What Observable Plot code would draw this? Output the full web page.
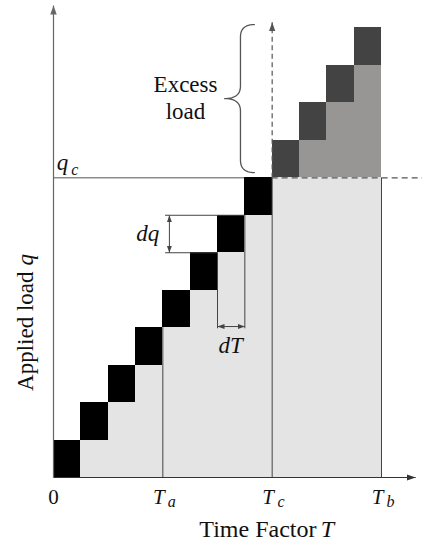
<!DOCTYPE html>
<html><head><meta charset="utf-8">
<script src="https://cdn.jsdelivr.net/npm/d3@7"></script>
<script src="https://cdn.jsdelivr.net/npm/@observablehq/plot@0.6"></script>
<style>html,body{margin:0;padding:0;background:#fff}#chart svg{display:block}</style>
</head><body><div id="chart"></div>
<script>
// ---- values (in units of dT and dq) ----
const stepStart = [0, 1, 2, 3, 4, 5, 6, 7, 8, 9, 10, 11];   // T at which each load increment starts
const stepLoad  = [1, 2, 3, 4, 5, 6, 7, 8, 9, 10, 11, 12];  // load q after each increment
const dT = 1, dq = 1;
const qc = 8;                          // critical load q_c
const Ta = 4, Tc = 8, Tb = 12;
const tickT    = [Ta, Tc, Tb];
const tickMain = ["T", "T", "T"];
const tickSub  = ["a", "c", "b"];
const originLabel = "0";
const xLabel = "Time Factor", xSym = "T";
const yLabel = "Applied load", ySym = "q";
const excessLabel = "Excess\nload";
const dqStep = 6, dTStep = 6;          // increments used to annotate dq and dT

const incs = stepStart.map((t, i) => ({t0: t, t1: t + dT, q0: stepLoad[i] - dq, q1: stepLoad[i]}));

const serif = '"Liberation Serif", "Times New Roman", serif';
const lineC = "#444";
const txt = {fontFamily: serif, fill: "#111"};

function head(orient, size) {
  return (color) => {
    const m = d3.create("svg:marker")
      .attr("viewBox", "-5 -5 10 10")
      .attr("markerWidth", size).attr("markerHeight", size)
      .attr("markerUnits", "userSpaceOnUse")
      .attr("refX", 5).attr("refY", 0)
      .attr("orient", orient);
    m.append("path").attr("d", "M-5,-3.6L5,0L-5,3.6Z").attr("fill", color).attr("stroke", "none");
    return m.node();
  };
}

// brace geometry (data units)
function quad(p0, c, p1, n = 12) {
  const pts = [];
  for (let k = 0; k <= n; k++) {
    const s = k / n, a = (1 - s) * (1 - s), b = 2 * (1 - s) * s, d = s * s;
    pts.push([a * p0[0] + b * c[0] + d * p1[0], a * p0[1] + b * c[1] + d * p1[1]]);
  }
  return pts;
}
const bx = {end: 7.35, spine: 6.84, tip: 6.26}, bq = {top: 12.09, bot: qc + 0.14}, r = 0.33;
const bmid = (bq.top + bq.bot) / 2;
const brace = [
  ...quad([bx.end, bq.top], [bx.spine, bq.top], [bx.spine, bq.top - r]),
  ...quad([bx.spine, bmid + r], [bx.spine, bmid], [bx.tip, bmid]),
  ...quad([bx.tip, bmid], [bx.spine, bmid], [bx.spine, bmid - r]),
  ...quad([bx.spine, bq.bot + r], [bx.spine, bq.bot], [bx.end, bq.bot])
];

const below = incs.filter(d => d.q1 <= qc);
const above = incs.filter(d => d.q1 > qc);
const crisp = {shapeRendering: "crispEdges"};

const chart = Plot.plot({
  width: 422, height: 543,
  marginLeft: 53, marginRight: 0, marginTop: 5, marginBottom: 66,
  x: {domain: [0, 13.5], axis: null},
  y: {domain: [0, 12.6], axis: null},
  style: {fontFamily: serif, background: "white"},
  marks: [
    // filled area under the staircase
    Plot.rect(incs.filter(d => d.q0 > 0), {x1: "t0", x2: "t1", y1: 0, y2: d => Math.min(d.q0, qc), fill: "#e5e4e5", ...crisp}),
    Plot.rect(incs.filter(d => d.q0 > qc), {x1: "t0", x2: "t1", y1: qc, y2: "q0", fill: "#989595", ...crisp}),
    // load increments
    Plot.rect(below, {x1: "t0", x2: "t1", y1: "q0", y2: "q1", fill: "#000", ...crisp}),
    Plot.rect(above, {x1: "t0", x2: "t1", y1: "q0", y2: "q1", fill: "#434343", ...crisp}),
    // guides at Ta, Tc, Tb
    Plot.ruleX([Ta, Tc, Tb], {x: d => d, y1: 0, y2: d => Math.min(d * dq / dT, qc), stroke: lineC, strokeWidth: 1}),
    // q_c line
    Plot.ruleY([qc], {x1: 0, x2: Tc - dT, stroke: "#555", strokeWidth: 1}),
    Plot.ruleY([qc], {x1: Tc, x2: 13.5, stroke: "#555", strokeWidth: 1.2, strokeDasharray: "6,4"}),
    Plot.link([0], {x1: Tc, y1: qc, x2: Tc, y2: 12.15, stroke: "#555", strokeWidth: 1.2, strokeDasharray: "5,3.5", markerEnd: head("auto", 9)}),
    // axes
    Plot.link([0], {x1: 0, y1: 0, x2: 0, y2: 12.6, stroke: "#666", strokeWidth: 1.2, markerEnd: head("auto", 9)}),
    Plot.link([0], {x1: 0, y1: 0, x2: 13.25, y2: 0, stroke: "#333", strokeWidth: 1.2, markerEnd: head("auto", 9)}),
    // dq annotation
    Plot.ruleY([dqStep, dqStep + dq], {y: d => d, x1: Ta + 0.1, x2: d => d, stroke: lineC, strokeWidth: 1}),
    Plot.link([0], {x1: Ta + 0.24, y1: dqStep, x2: Ta + 0.24, y2: dqStep + dq, stroke: lineC, strokeWidth: 1,
      markerStart: head("auto-start-reverse", 7), markerEnd: head("auto", 7)}),
    Plot.text(["dq"], {x: Ta - 0.55, y: dqStep + dq / 2, text: d => d, fontStyle: "italic", fontSize: 23, ...txt}),
    // dT annotation
    Plot.ruleX([dTStep, dTStep + dT], {x: d => d, y1: 3.97, y2: d => d, stroke: lineC, strokeWidth: 1}),
    Plot.link([0], {x1: dTStep, y1: 4.03, x2: dTStep + dT, y2: 4.03, stroke: lineC, strokeWidth: 1,
      markerStart: head("auto-start-reverse", 7), markerEnd: head("auto", 7)}),
    Plot.text(["dT"], {x: dTStep + dT / 2 - 0.02, y: 3.52, text: d => d, fontStyle: "italic", fontSize: 23, ...txt}),
    // brace and label
    Plot.line(brace, {x: d => d[0], y: d => d[1], stroke: "#555", strokeWidth: 1.3}),
    Plot.text([excessLabel], {x: 4.83, y: 10.16, text: d => d, fontSize: 23, lineHeight: 1.16, ...txt}),
    // q_c label
    Plot.text(["q"], {x: 0.33, y: 8.4, text: d => d, fontStyle: "italic", fontSize: 23, ...txt}),
    Plot.text(["c"], {x: 0.78, y: 8.2, text: d => d, fontStyle: "italic", fontSize: 16, ...txt}),
    // x tick labels
    Plot.text([0], {x: d => d, y: -0.52, text: () => originLabel, fontSize: 21, ...txt}),
    Plot.text(tickT, {x: d => d, y: -0.52, text: (d, i) => tickMain[i], fontStyle: "italic", fontSize: 21, dx: -4, ...txt}),
    Plot.text(tickT, {x: d => d, y: -0.66, text: (d, i) => tickSub[i], fontStyle: "italic", fontSize: 16, dx: 9, ...txt}),
    // axis titles
    Plot.text([xLabel], {x: 9.62, y: -1.38, text: d => d, textAnchor: "end", fontSize: 24, ...txt}),
    Plot.text([xSym], {x: 9.78, y: -1.38, text: d => d, textAnchor: "start", fontStyle: "italic", fontSize: 24, ...txt}),
    Plot.text([yLabel], {x: -1.02, y: 5.5, text: d => d, textAnchor: "end", rotate: -90, fontSize: 23, ...txt}),
    Plot.text([ySym], {x: -1.02, y: 5.66, text: d => d, textAnchor: "start", rotate: -90, fontStyle: "italic", fontSize: 23, ...txt})
  ]
});
document.getElementById("chart").appendChild(chart);
</script>
</body></html>
